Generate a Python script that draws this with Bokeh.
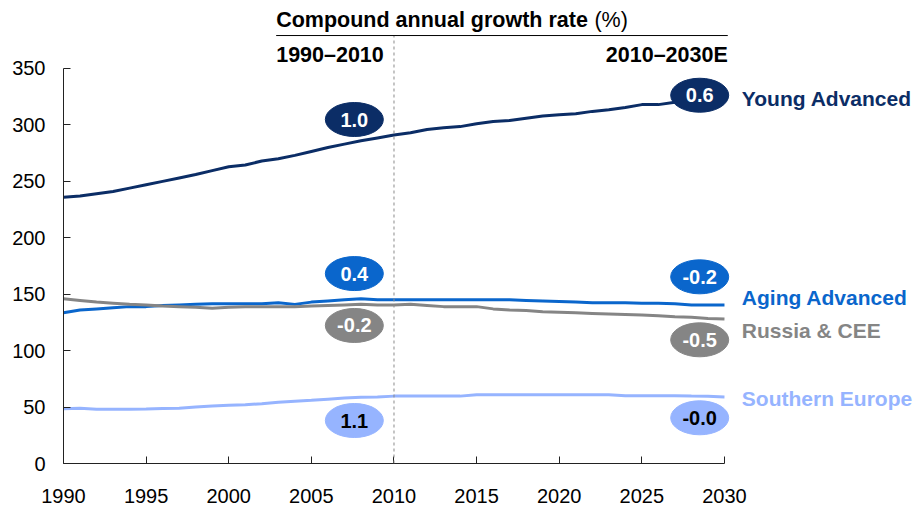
from bokeh.plotting import figure
from bokeh.models import Range1d, FixedTicker, Label, Arrow, ColumnDataSource
from bokeh.core.properties import value
from bokeh.embed import file_html
from bokeh.resources import INLINE

FONT = "Liberation Sans"
BIG = "21.5px"
NAME_SIZE = "21px"

years = list(range(1990, 2031))

young_advanced = [236, 237, 239, 241, 244, 247, 250, 253, 256, 259.5, 263,
                  264.5, 268, 270, 273, 276.5, 280, 283, 286, 288.5, 291,
                  293, 296, 297.5, 298.5, 301, 303, 304, 306, 308, 309,
                  310, 312, 313.5, 315.5, 318, 318, 320, 321, 322, 324]
aging_advanced = [133.5, 136, 137, 138, 139, 139, 140, 140.5, 141, 141.5, 141.5,
                  141.5, 141.5, 142.5, 141, 143, 144, 145, 146, 145, 145,
                  145, 145, 145, 145, 145, 145, 145, 144.5, 144, 143.5,
                  143, 142.5, 142.5, 142.5, 142, 142, 141.5, 140.5, 140.5, 140.5]
russia_cee = [146, 144.5, 143, 142, 141, 140.5, 139.5, 139, 138.5, 137.5, 138.5,
              139, 139, 139, 139, 139.5, 140, 140.5, 141, 140.5, 140.5,
              141, 140, 139, 139, 139, 137, 136, 135.5, 134.5, 134,
              133.5, 133, 132.5, 132, 131.5, 131, 130, 129.5, 128.5, 128]
southern_europe = [48.5, 49, 48, 48, 48, 48.2, 48.7, 49, 50, 51, 51.7,
                   52, 53, 54.3, 55.2, 56, 57, 58, 58.8, 59, 59.7,
                   59.7, 59.7, 59.7, 59.7, 61, 61, 61, 61, 61, 61,
                   61, 61, 61, 60, 60, 60, 60, 59.7, 59.5, 59]

series_names = ["Young Advanced", "Aging Advanced", "Russia & CEE", "Southern Europe"]
series_values = [young_advanced, aging_advanced, russia_cee, southern_europe]
series_colors = ["#0b2d66", "#0a66cc", "#858585", "#96b4ff"]
cagr_1990_2010 = ["1.0", "0.4", "-0.2", "1.1"]
cagr_2010_2030 = ["0.6", "-0.2", "-0.5", "-0.0"]
badge_text_colors = ["white", "white", "white", "black"]

y_ticks = [0, 50, 100, 150, 200, 250, 300, 350]
x_ticks = [1990, 1995, 2000, 2005, 2010, 2015, 2020, 2025, 2030]

# layout constants (positions of annotations, in data coordinates)
badge_left_x = 2007.6
badge_right_x = 2028.5
badge_left_y = [304.8, 168.3, 122.3, 38.1]
badge_right_y = [326.3, 165.4, 109.6, 40.5]
name_x = 2031.05
name_y = [323.6, 147.0, 117.8, 57.2]
header_y = 393.0
period_y = 362.0

p = figure(frame_width=852, frame_height=463,
           x_range=Range1d(1990, 2041.56), y_range=Range1d(0, 410.25),
           output_backend="svg", toolbar_location=None,
           min_border_left=63, min_border_right=0,
           min_border_top=0, min_border_bottom=43)
p.outline_line_color = None
p.grid.visible = False
p.background_fill_color = "white"
p.border_fill_color = "white"

for ax in (p.xaxis[0], p.yaxis[0]):
    ax.major_tick_in = 7
    ax.major_tick_out = 0
    ax.minor_tick_line_color = None
    ax.axis_line_color = "#222222"
    ax.major_tick_line_color = "#222222"
    ax.major_label_text_font = FONT
    ax.major_label_text_font_size = "20px"
    ax.major_label_text_color = "black"

p.xaxis.ticker = FixedTicker(ticks=x_ticks)
p.xaxis.bounds = (1990, 2030)
p.xaxis.major_label_standoff = 25
p.yaxis.ticker = FixedTicker(ticks=y_ticks)
p.yaxis.bounds = (0, 350)
p.yaxis.major_label_standoff = 18

# lines
for vals, col in zip(series_values, series_colors):
    p.line(years, vals, line_color=col, line_width=3)

# dashed divider at 2010
p.add_layout(Arrow(end=None, x_start=2010, y_start=0, x_end=2010, y_end=379.2,
                   line_color="#8a8a8a", line_width=1, line_dash="3 3"))

# badges
bx = [badge_left_x] * 4 + [badge_right_x] * 4
by = badge_left_y + badge_right_y
btxt = cagr_1990_2010 + cagr_2010_2030
bcol = series_colors * 2
btcol = badge_text_colors * 2
src = ColumnDataSource(dict(x=bx, y=by, t=btxt, c=bcol, tc=btcol))
p.ellipse(x="x", y="y", width=58, height=34, width_units="screen",
          height_units="screen", fill_color="c", line_color="c", source=src)
p.text(x="x", y="y", text="t", text_color="tc", text_align="center",
       text_baseline="middle", text_font=value(FONT), text_font_size="20px",
       text_font_style="bold", source=src)

# series names
for name, ny, col in zip(series_names, name_y, series_colors):
    p.add_layout(Label(x=name_x, y=ny, text=name, text_color=col,
                       text_font=FONT, text_font_size=NAME_SIZE, text_font_style="bold",
                       text_baseline="alphabetic"))

# header
p.add_layout(Label(x=2002.87, y=header_y, text="Compound annual growth rate",
                   text_font=FONT, text_font_size=BIG, text_font_style="bold",
                   text_color="black", text_baseline="alphabetic"))
p.add_layout(Label(x=2022.13, y=header_y, text="(%)",
                   text_font=FONT, text_font_size=BIG, text_font_style="normal",
                   text_color="black", text_baseline="alphabetic"))
p.add_layout(Arrow(end=None, x_start=2002.87, y_start=379.2, x_end=2030.2, y_end=379.2,
                   line_color="black", line_width=1))
p.add_layout(Label(x=2002.87, y=period_y, text="1990\u20132010",
                   text_font=FONT, text_font_size=BIG, text_font_style="bold",
                   text_color="black", text_baseline="alphabetic"))
p.add_layout(Label(x=2030.2, y=period_y, text="2010\u20132030E",
                   text_font=FONT, text_font_size=BIG, text_font_style="bold",
                   text_color="black", text_baseline="alphabetic", text_align="right"))

open("out.html", "w").write(file_html(p, INLINE))
